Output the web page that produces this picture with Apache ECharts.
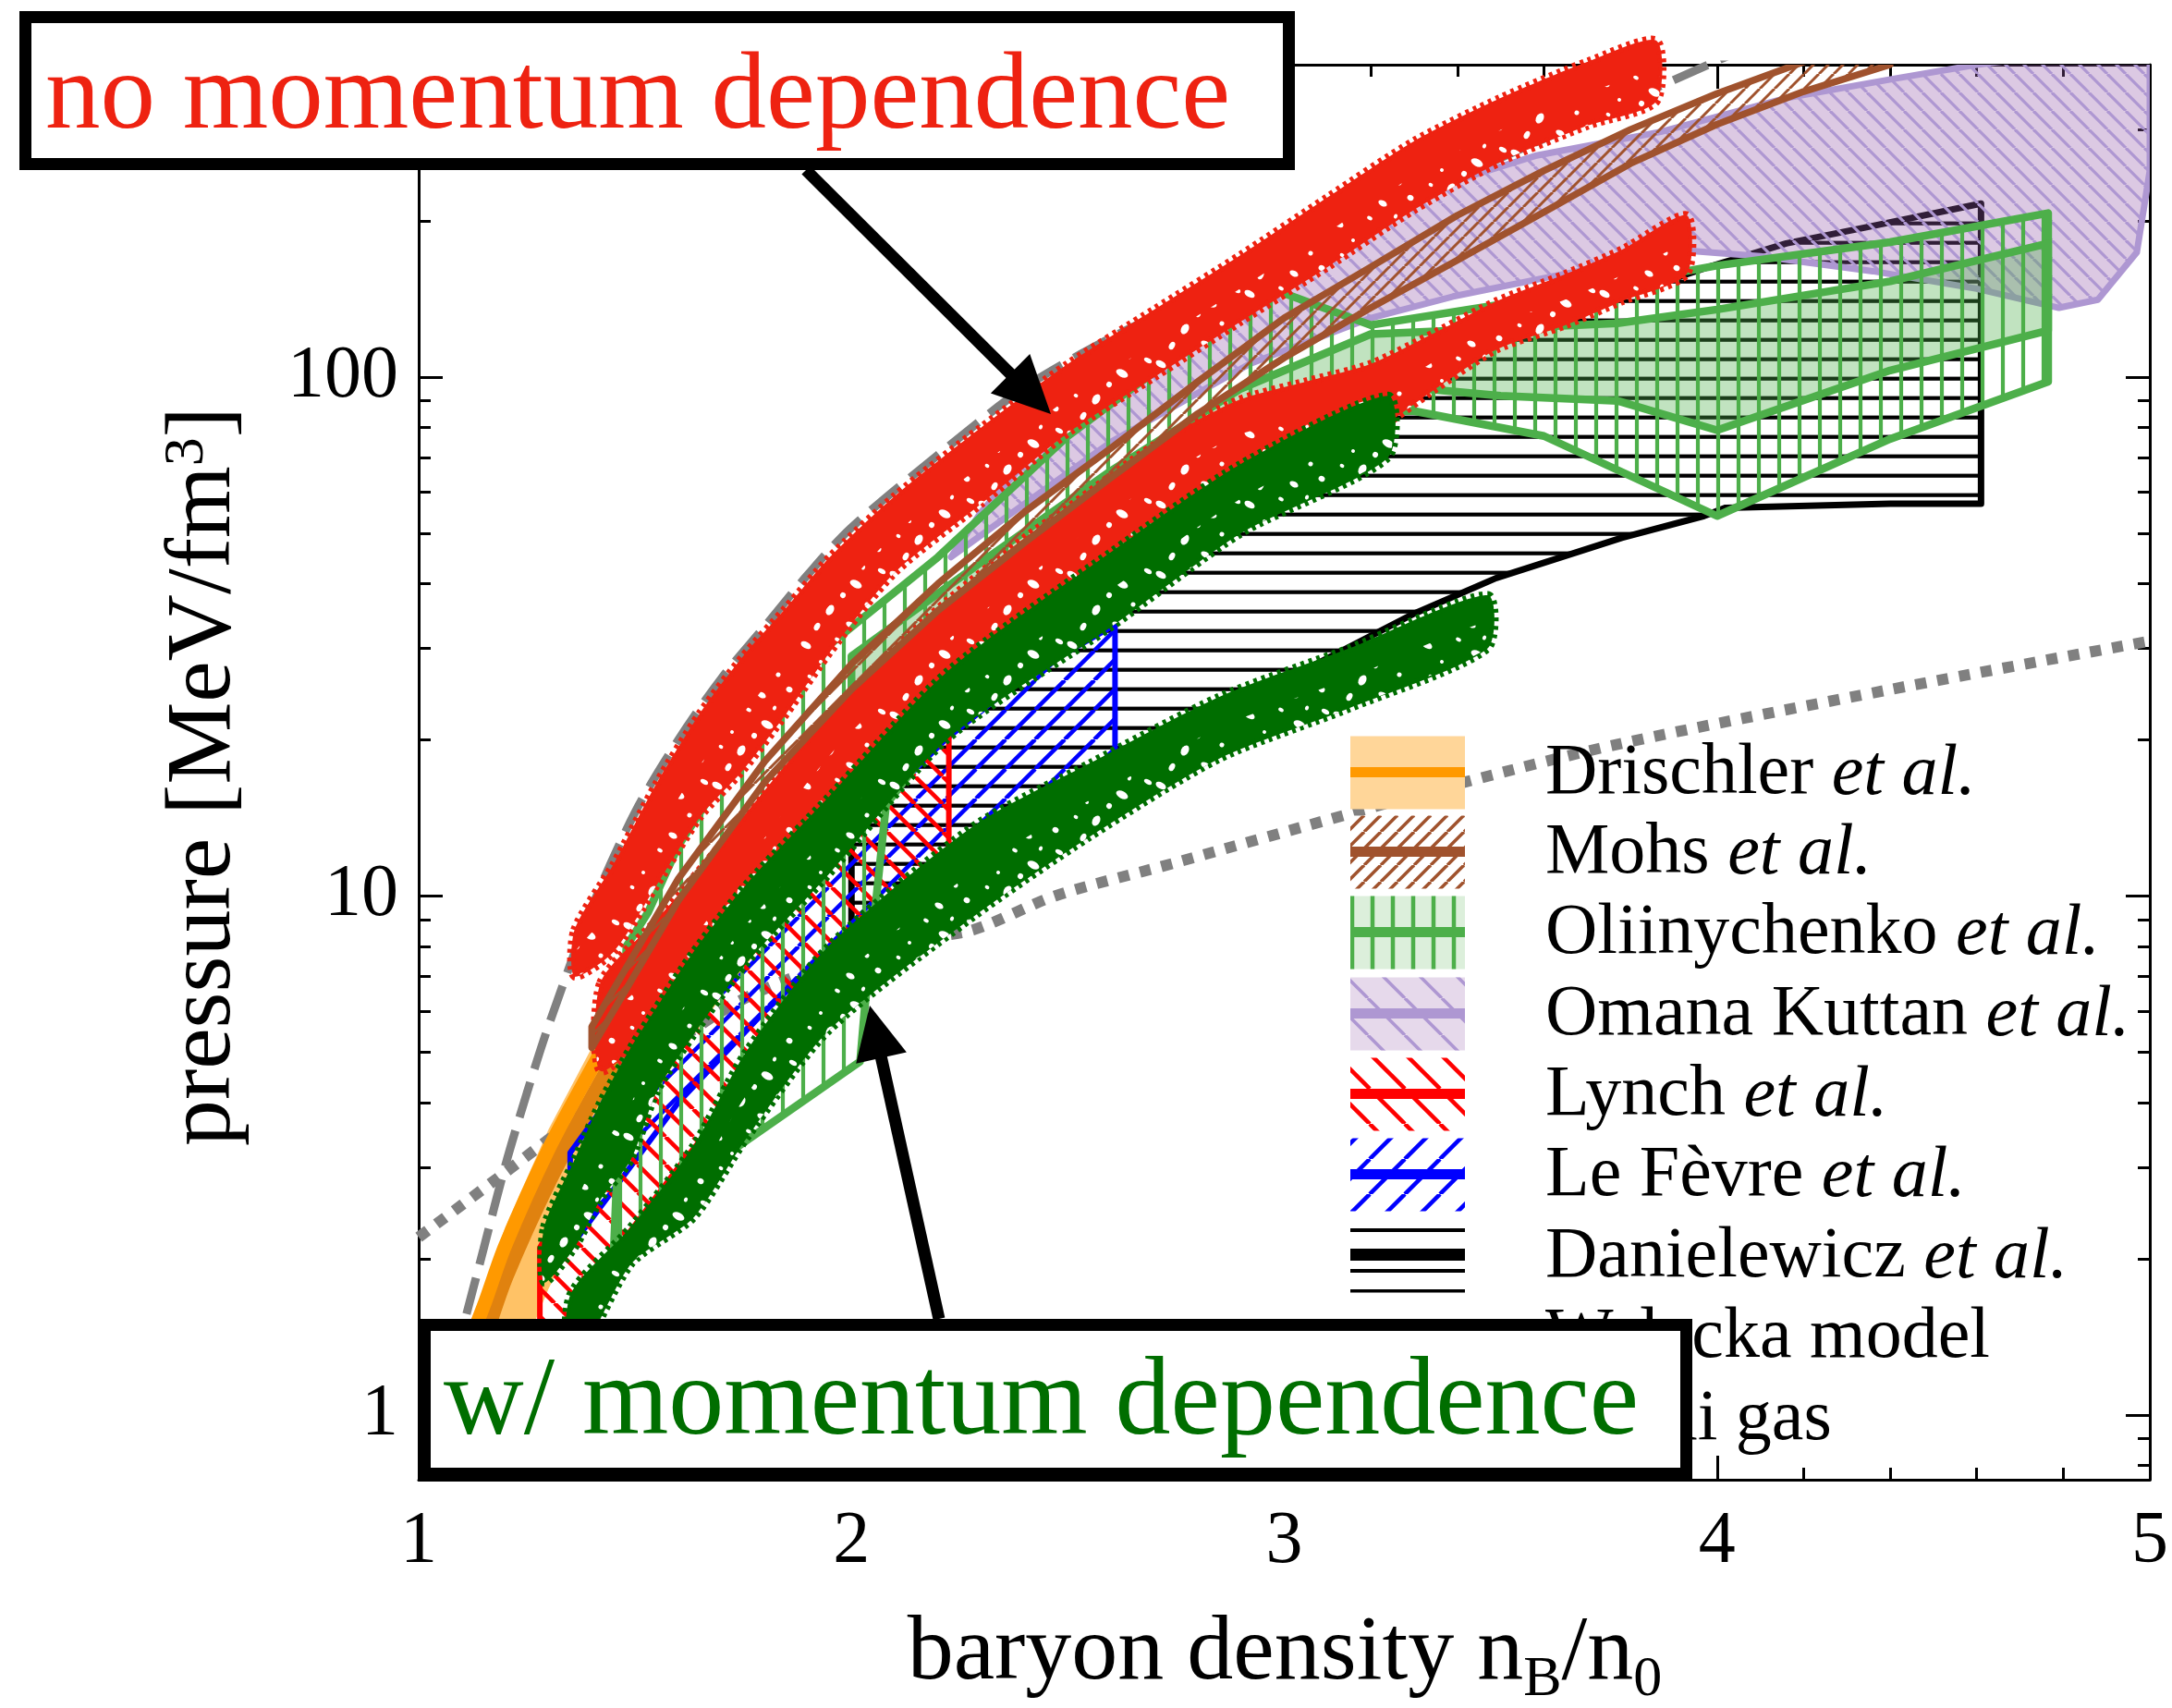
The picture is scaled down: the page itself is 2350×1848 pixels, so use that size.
<!DOCTYPE html>
<html><head><meta charset="utf-8">
<script src="https://cdn.jsdelivr.net/npm/echarts@6/dist/echarts.min.js"></script>
<style>html,body{margin:0;padding:0;background:#fff}#c{width:2350px;height:1848px}</style>
</head><body><div id="c"></div>
<script>
// ---------------- DATA ----------------
const xTicks = [1, 2, 3, 4, 5];
const yMajor = [1, 10, 100];
const yMinor = [0.8, 0.9, 2, 3, 4, 5, 6, 7, 8, 9, 20, 30, 40, 50, 60, 70, 80, 90, 200, 300];

// Walecka model (gray dashed)
const waleckaX = [1.08, 1.10, 1.15, 1.20, 1.25, 1.30, 1.40, 1.50, 1.60, 1.70, 1.80, 1.90, 2.00, 2.20, 2.40, 2.60, 2.80, 3.00, 3.20, 3.40, 3.60, 3.80, 4.00, 4.10];
const waleckaP = [1.26, 1.45, 2.09, 3.02, 4.17, 5.62, 9.5, 14.5, 20, 26.3, 33.1, 41.7, 51.3, 70.8, 95.5, 119, 143, 172, 204, 243, 288, 343, 407, 442];

// Fermi gas (gray dotted)
const fermiX = [1.0, 1.18, 1.36, 1.73, 2.10, 2.28, 2.47, 2.75, 3.15, 3.42, 3.77, 4.4, 5.0];
const fermiP = [2.2, 2.85, 3.7, 6.2, 8.1, 8.6, 10.0, 11.6, 14.4, 16.6, 19.6, 25.0, 31.0];

// Drischler et al.
const drX = [1.08, 1.15, 1.2, 1.3, 1.4, 1.5, 1.6, 1.7, 1.8, 1.9, 2.0];
const drHi = [1.25, 1.75, 2.3, 3.55, 5.1, 7.1, 9.6, 12.4, 15.6, 19, 22.5];
const drLo = [0.6, 0.85, 1.1, 1.75, 2.6, 3.6, 4.9, 6.4, 8.2, 10.2, 12.4];
const drMid = [1.15, 1.62, 2.12, 3.25, 4.65, 6.5, 8.8, 11.4, 14.4, 17.5, 20.8];
const drDark = [1.0, 1.41, 1.85, 2.83, 4.05, 5.65, 7.65, 9.9, 12.5, 15.2, 18.1];

// Mohs et al.
const mohsX = [1.4, 1.6, 1.8, 2.0, 2.2, 2.4, 2.6, 2.8, 3.0, 3.2, 3.4, 3.6, 3.8, 4.0, 4.2, 4.4];
const mohsHi = [5.6, 10.8, 18.2, 28, 40, 55, 73, 98, 130, 163, 205, 250, 300, 352, 405, 460];
const mohsLo = [5.1, 9.8, 16.6, 25, 35.5, 48, 64, 85, 109, 136, 168, 208, 258, 307, 355, 400];

// Oliinychenko et al. (outer hatched band, inner filled band)
const oaUx = [1.48, 1.53, 1.6, 1.76, 1.95, 2.2, 2.5, 2.75, 2.98, 3.2, 3.5, 4.0, 4.4, 4.765];
const oaUp = [8.0, 9.3, 12.5, 20, 30.5, 45, 77, 110, 147, 126, 138, 164, 182, 207];
const oaLx = [1.45, 1.6, 1.74, 2.02, 2.03, 2.08, 2.3, 2.6, 2.9, 3.1, 3.3, 3.6, 4.0, 4.4, 4.765];
const oaLo = [2.0, 2.6, 3.3, 4.8, 6.0, 15, 26, 45, 80, 86, 86, 77, 54, 76, 98];
const obX = [2.0, 2.3, 2.6, 2.9, 3.2, 3.5, 3.77, 4.0, 4.4, 4.765];
const obHi = [29, 44, 66, 95, 121, 124, 127, 135, 153, 181];
const obLo = [22, 32, 46, 70, 97, 92, 90, 79, 103, 123];

// Omana Kuttan et al.
const omUx = [2.23, 2.3, 2.5, 2.8, 3.0, 3.28, 3.58, 3.87, 4.16, 4.41, 4.6, 4.8, 5.0];
const omUp = [45, 55, 85, 135, 170, 223, 267, 297, 345, 376, 400, 420, 430];
const omLx = [2.23, 2.4, 2.6, 2.92, 3.2, 3.39, 3.68, 3.94, 4.1, 4.36, 4.6, 4.79, 4.88, 4.97, 5.0];
const omLo = [45, 57, 75, 106, 130, 143, 160, 175, 171, 160, 148, 136, 141, 174, 250];

// Lynch et al.
const lyX = [1.28, 1.4, 1.6, 1.8, 2.0, 2.225];
const lyHi = [2.1, 3.2, 5.4, 8.5, 13.5, 22];
const lyLo = [1.2, 1.8, 3.0, 4.8, 7.3, 11.1];

// Le Fevre et al.
const lfX = [1.35, 1.6, 1.8, 2.0, 2.2, 2.4, 2.609];
const lfHi = [3.2, 6.2, 9.6, 14.0, 19.5, 26.5, 33.3];
const lfLo = [2.1, 4.0, 6.0, 8.5, 11.3, 14.5, 18.4];

// Danielewicz et al.
const daUx = [2.0, 2.2, 2.45, 2.7, 2.98, 3.22, 3.3, 3.58, 3.97, 4.16, 4.34, 4.61];
const daUp = [19, 26, 37, 56, 80, 96, 100, 126, 162, 181, 194, 216];
const daLx = [2.0, 2.2, 2.42, 2.56, 2.94, 3.3, 3.49, 3.78, 3.97, 4.02, 4.4, 4.61];
const daLo = [7.7, 11, 15, 17.7, 24.5, 35, 41, 49, 54, 56, 57, 57];

// no momentum dependence (red bands)
const r1X = [1.36, 1.45, 1.55, 1.65, 1.75, 1.85, 1.95, 2.1, 2.3, 2.5, 2.7, 2.9, 3.1, 3.3, 3.5, 3.7, 3.86];
const r1Hi = [8.6, 11.5, 16.5, 22.5, 29, 36, 45, 59, 80, 106, 135, 172, 222, 285, 345, 405, 445];
const r1Lo = [7.0, 7.8, 10.5, 14.2, 17.5, 22.5, 29.5, 42, 57, 78, 100, 128, 163, 210, 260, 305, 340];
const r2X = [1.42, 1.55, 1.66, 1.8, 1.95, 2.1, 2.22, 2.4, 2.5, 2.7, 2.89, 3.05, 3.2, 3.35, 3.49, 3.65, 3.78, 3.93];
const r2Hi = [6.8, 9.0, 11.5, 16, 22.5, 30, 37, 49, 56, 74, 90, 98, 106, 122, 140, 158, 176, 205];
const r2Lo = [4.6, 5.6, 6.8, 10.5, 15.5, 21, 26, 34, 40, 53, 66, 72, 78, 95, 113, 126, 140, 158];

// with momentum dependence (green bands)
const g1X = [1.29, 1.36, 1.42, 1.49, 1.55, 1.635, 1.756, 1.947, 2.22, 2.6, 2.9, 3.24];
const g1Hi = [2.3, 3.1, 4.0, 5.1, 6.1, 7.8, 10.5, 15.5, 27, 46, 68, 92];
const g1Lo = [1.8, 2.1, 2.6, 3.1, 4.2, 5.4, 7.4, 11.0, 20, 33, 50, 70];
const g2X = [1.35, 1.49, 1.635, 1.756, 1.947, 2.28, 2.55, 2.85, 3.15, 3.47];
const g2Hi = [1.7, 2.3, 3.3, 5.0, 8.0, 13.6, 18, 24.2, 30, 38];
const g2Lo = [1.2, 1.95, 2.4, 3.4, 5.5, 9.1, 13, 18.4, 23, 30];

// legend
const legendNames = ['Drischler ', 'Mohs ', 'Oliinychenko ', 'Omana Kuttan ', 'Lynch ', 'Le Fèvre ', 'Danielewicz ', 'Walecka model', 'Fermi gas'];
const legendEtAl = [true, true, true, true, true, true, true, false, false];

// ---------------- STYLE ----------------
const FONT = 'Liberation Serif';
const C = {
  red: '#ee2211', dgreen: '#006e00', gray: '#808080', orange: '#ff9900', dorange: '#e0820f',
  brown: '#a0522d', lgreen: '#4daf4a', purple: '#ae97d2', blue: '#0000ff', lred: '#ff0000'
};

function mkPattern(w, h, draw) {
  const c = document.createElement('canvas'); c.width = w; c.height = h;
  const g = c.getContext('2d'); draw(g, w, h);
  return { image: c, repeat: 'repeat' };
}
function diag(color, s, lw, dir, bg) {
  return mkPattern(s, s, (g) => {
    if (bg) { g.fillStyle = bg; g.fillRect(0, 0, s, s); }
    g.strokeStyle = color; g.lineWidth = lw;
    for (let k = -1; k <= 1; k++) {
      g.beginPath();
      if (dir > 0) { g.moveTo(k * s, s); g.lineTo(k * s + s, 0); }
      else { g.moveTo(k * s, 0); g.lineTo(k * s + s, s); }
      g.stroke();
    }
  });
}
function hlines(color, s, lw, bg) {
  return mkPattern(8, s, (g, w, h) => {
    if (bg) { g.fillStyle = bg; g.fillRect(0, 0, w, h); }
    g.fillStyle = color; g.fillRect(0, (s - lw) / 2, w, lw);
  });
}
function vlines(color, s, lw, bg) {
  return mkPattern(s, 8, (g, w, h) => {
    if (bg) { g.fillStyle = bg; g.fillRect(0, 0, w, h); }
    g.fillStyle = color; g.fillRect((s - lw) / 2, 0, lw, h);
  });
}
// texture of small white holes used inside the scattered bands
const speckle = mkPattern(96, 76, (g) => {
  g.fillStyle = '#fff';
  const spots = [[8, 14, 6, 3.5], [34, 52, 4, 6], [62, 24, 7, 4], [86, 62, 3.5, 3], [48, 36, 3, 3],
                 [90, 10, 4.5, 2.5], [20, 70, 3, 4.5], [74, 46, 2.5, 2.5], [24, 32, 2, 2], [56, 68, 5, 3],
                 [12, 48, 2.5, 2], [70, 6, 2, 2.5], [42, 8, 3, 2]];
  spots.forEach(s => { g.beginPath(); g.ellipse(s[0], s[1], s[2], s[3], 0.5, 0, Math.PI * 2); g.fill(); });
});

const P = {
  dan: hlines('#000', 21.4, 4.2),
  lef: diag(C.blue, 32, 4.5, 1),
  lyn: diag(C.lred, 30, 4.5, -1),
  oma: diag(C.purple, 20, 3.2, -1),
  oli: vlines(C.lgreen, 22, 4.2),
  moh: diag(C.brown, 16, 3, 1)
};

// ---------------- SERIES HELPERS ----------------
function polyPts(api, ux, uy, lx, ly) {
  const pts = [];
  for (let i = 0; i < ux.length; i++) pts.push(api.coord([ux[i], uy[i]]));
  for (let i = lx.length - 1; i >= 0; i--) pts.push(api.coord([lx[i], ly[i]]));
  return pts;
}
function band(name, ux, uy, lx, ly, st) {
  return {
    type: 'custom', name: name, coordinateSystem: 'cartesian2d', xAxisIndex: 0, yAxisIndex: 0,
    clip: st.clip !== false, silent: true, animation: false, z: st.z || 2,
    data: [[ux[0], uy[0]]],
    renderItem: function (params, api) {
      const pts = polyPts(api, ux, uy, lx, ly);
      const sm = st.smooth || 0;
      const ch = [];
      if (st.fill) ch.push({ type: 'polygon', shape: { points: pts, smooth: sm }, style: { fill: st.fill, stroke: st.jag ? st.fill : 'none', lineWidth: st.jag || 0, lineDash: st.jag ? [4, 5] : null, lineCap: 'butt', lineJoin: 'round' } });
      if (st.hatch) ch.push({ type: 'polygon', shape: { points: pts }, style: { fill: st.hatch } });
      if (st.speck) {
        const sp = [];
        for (let i = 0; i < ux.length; i++) {
          const a = api.coord([ux[i], uy[i]]), b = api.coord([lx[i], ly[i]]);
          sp.push([b[0] + 0.5 * (a[0] - b[0]), b[1] + 0.5 * (a[1] - b[1])]);
        }
        for (let i = lx.length - 1; i >= 0; i--) sp.push(api.coord([lx[i], ly[i]]));
        ch.push({ type: 'polygon', shape: { points: sp, smooth: sm }, style: { fill: speckle } });
      }
      if (st.stroke) ch.push({ type: 'polygon', shape: { points: pts }, style: { fill: 'none', stroke: st.stroke, lineWidth: st.lw, lineJoin: 'round' } });
      return { type: 'group', children: ch };
    }
  };
}
function zip(xs, ys) { return xs.map((x, i) => [x, ys[i]]); }
function line(name, xs, ys, ls, z) {
  return { type: 'line', name: name, data: zip(xs, ys), showSymbol: false, symbol: 'none', smooth: 0.3, z: z || 1,
           silent: true, animation: false, lineStyle: ls, xAxisIndex: 0, yAxisIndex: 0 };
}

// ---------------- AXES ----------------
const axisCol = '#000';
function xAx(pos, labels) {
  return {
    type: 'value', position: pos, min: 1, max: 5, interval: 1,
    axisLine: { show: true, onZero: false, lineStyle: { color: axisCol, width: 3 } },
    axisTick: { show: true, inside: true, length: 26, lineStyle: { color: axisCol, width: 3 } },
    minorTick: { show: true, splitNumber: 5, length: 13, lineStyle: { color: axisCol, width: 3 } },
    axisLabel: { show: labels, fontSize: 80, fontFamily: FONT, color: '#000', margin: 28 },
    splitLine: { show: false }, minorSplitLine: { show: false }
  };
}
function yAx(pos, vals, major, labels, lineShow) {
  return {
    type: 'log', logBase: 10, position: pos, min: 0.75, max: 400,
    axisLine: { show: lineShow, onZero: false, lineStyle: { color: axisCol, width: 3 } },
    axisTick: { show: true, inside: true, length: major ? 26 : 13, customValues: vals, lineStyle: { color: axisCol, width: 3 } },
    axisLabel: { show: labels, customValues: vals, fontSize: 80, fontFamily: FONT, color: '#000', margin: 22 },
    splitLine: { show: false }, minorTick: { show: false }
  };
}

// ---------------- GRAPHICS (annotations, legend) ----------------
const rows = [836, 922, 1009, 1097, 1184, 1271, 1359, 1446, 1535];
const SW = { x: 1461, w: 124, h: 79 };
const legSw = [
  { bg: '#ffd699', hatch: null, line: C.orange },
  { bg: '#fff', hatch: diag(C.brown, 18, 3.5, 1), line: C.brown },
  { bg: '#dcefdb', hatch: vlines(C.lgreen, 22, 4.5), line: C.lgreen },
  { bg: '#e6d9eb', hatch: diag(C.purple, 40, 3.5, -1), line: C.purple },
  { bg: '#fff', hatch: diag(C.lred, 38, 4.5, -1), line: C.lred },
  { bg: '#fff', hatch: diag(C.blue, 38, 4.5, 1), line: C.blue },
  { bg: '#fff', hatch: hlines('#000', 22, 4), line: '#000' },
  { dash: [40, 15], lw: 9 },
  { dash: [12, 12], lw: 12 }
];
const graphics = [];
legSw.forEach((s, i) => {
  const cy = rows[i];
  if (s.bg) {
    graphics.push({ type: 'rect', z: 50, shape: { x: SW.x, y: cy - SW.h / 2, width: SW.w, height: SW.h }, style: { fill: s.bg } });
    if (s.hatch) graphics.push({ type: 'rect', z: 51, shape: { x: SW.x, y: cy - SW.h / 2, width: SW.w, height: SW.h }, style: { fill: s.hatch } });
    graphics.push({ type: 'rect', z: 52, shape: { x: SW.x, y: cy - 6, width: SW.w, height: 11 }, style: { fill: s.line } });
  } else {
    graphics.push({ type: 'line', z: 52, shape: { x1: SW.x, y1: cy, x2: SW.x + SW.w, y2: cy }, style: { stroke: C.gray, lineWidth: s.lw, lineDash: s.dash } });
  }
  const txt = legendEtAl[i] ? '{n|' + legendNames[i] + '}{i|et al.}' : '{n|' + legendNames[i] + '}';
  graphics.push({ type: 'text', z: 52, x: 1672, y: cy + 2, style: {
    text: txt, verticalAlign: 'middle', align: 'left',
    rich: { n: { fontSize: 78, fontFamily: FONT, fill: '#000' }, i: { fontSize: 78, fontFamily: FONT, fontStyle: 'italic', fill: '#000' } } } });
});
// boxes
graphics.push({ type: 'rect', z: 60, shape: { x: 27.5, y: 18.5, width: 1367, height: 159 }, style: { fill: '#fff', stroke: '#000', lineWidth: 13 } });
graphics.push({ type: 'text', z: 61, x: 49, y: 107, style: { text: 'no momentum dependence', fontSize: 119, fontFamily: FONT, fill: C.red, verticalAlign: 'middle' } });
graphics.push({ type: 'rect', z: 60, shape: { x: 459.5, y: 1433.5, width: 1365, height: 161 }, style: { fill: '#fff', stroke: '#000', lineWidth: 13 } });
graphics.push({ type: 'text', z: 61, x: 480, y: 1519, style: { text: 'w/ momentum dependence', fontSize: 120, fontFamily: FONT, fill: C.dgreen, verticalAlign: 'middle' } });
// arrows
function arrow(sx, sy, tx, ty, hl, hw) {
  const L = Math.hypot(tx - sx, ty - sy), dx = (tx - sx) / L, dy = (ty - sy) / L;
  const bx = tx - hl * dx, by = ty - hl * dy, nx = -dy, ny = dx;
  graphics.push({ type: 'line', z: 60, shape: { x1: sx, y1: sy, x2: bx + dx * 4, y2: by + dy * 4 }, style: { stroke: '#000', lineWidth: 13 } });
  graphics.push({ type: 'polygon', z: 60, shape: { points: [[tx, ty], [bx + hw * nx, by + hw * ny], [bx - hw * nx, by - hw * ny]] }, style: { fill: '#000' } });
}
arrow(872, 184, 1137, 448, 62, 30);
arrow(1016, 1427, 941, 1088, 58, 28);
// axis titles
graphics.push({ type: 'text', z: 40, x: 1390, y: 1790, style: {
  text: '{t|baryon density n}{s|B}{t|/n}{s|0}', align: 'center', verticalAlign: 'middle',
  rich: { t: { fontSize: 100, fontFamily: FONT, fill: '#000' }, s: { fontSize: 62, fontFamily: FONT, fill: '#000', padding: [56, 0, 0, 0] } } } });
graphics.push({ type: 'text', z: 40, x: 222, y: 840, rotation: Math.PI / 2, style: {
  text: '{t|pressure [MeV/fm}{u|3}{t|]}', align: 'center', verticalAlign: 'middle',
  rich: { t: { fontSize: 100, fontFamily: FONT, fill: '#000' }, u: { fontSize: 62, fontFamily: FONT, fill: '#000', verticalAlign: 'top' } } } });

// ---------------- CHART ----------------
const chart = echarts.init(document.getElementById('c'), null, { renderer: 'canvas', width: 2350, height: 1848 });
chart.setOption({
  backgroundColor: '#fff',
  animation: false,
  grid: { left: 453, right: 24, top: 70, bottom: 247, containLabel: false, outerBoundsMode: 'none' },
  xAxis: [xAx('bottom', true), xAx('top', false)],
  yAxis: [yAx('left', yMajor, true, true, true), yAx('left', yMinor, false, false, false),
          yAx('right', yMajor, true, false, true), yAx('right', yMinor, false, false, false)],
  graphic: { elements: graphics },
  series: [
    line('Fermi gas', fermiX, fermiP, { color: C.gray, width: 12, type: [12, 12], cap: 'butt' }, 1),
    line('Walecka model', waleckaX, waleckaP, { color: C.gray, width: 9, type: [40, 15], cap: 'butt' }, 1),
    band('Drischler', drX, drHi, drX, drLo, { fill: 'rgba(255,153,0,0.6)', z: 1 }),
    line('Drischler dark', drX, drDark, { color: C.dorange, width: 18 }, 1),
    line('Drischler center', drX, drMid, { color: C.orange, width: 15 }, 1),
    band('Danielewicz', daUx, daUp, daLx, daLo, { hatch: P.dan, stroke: '#000', lw: 7 }),
    band('Omana Kuttan', omUx, omUp, omLx, omLo, { fill: 'rgba(150,90,170,0.33)', hatch: P.oma, stroke: C.purple, lw: 7 }),
    band('Le Fevre', lfX, lfHi, lfX, lfLo, { hatch: P.lef, stroke: C.blue, lw: 6 }),
    band('Lynch', lyX, lyHi, lyX, lyLo, { hatch: P.lyn, stroke: C.lred, lw: 6 }),
    band('Oliinychenko A', oaUx, oaUp, oaLx, oaLo, { hatch: P.oli, stroke: C.lgreen, lw: 8.5 }),
    band('Oliinychenko B', obX, obHi, obX, obLo, { fill: 'rgba(77,175,74,0.35)', stroke: C.lgreen, lw: 8.5 }),
    band('no-mom 1', r1X, r1Hi, r1X, r1Lo, { fill: C.red, jag: 9, speck: true, clip: false, z: 3, smooth: 0.25 }),
    band('no-mom 2', r2X, r2Hi, r2X, r2Lo, { fill: C.red, jag: 9, speck: true, clip: false, z: 3, smooth: 0.25 }),
    band('mom 1', g1X, g1Hi, g1X, g1Lo, { fill: C.dgreen, jag: 9, speck: true, clip: false, z: 3, smooth: 0.25 }),
    band('mom 2', g2X, g2Hi, g2X, g2Lo, { fill: C.dgreen, jag: 9, speck: true, clip: false, z: 3, smooth: 0.25 }),
    band('Mohs', mohsX, mohsHi, mohsX, mohsLo, { hatch: P.moh, stroke: C.brown, lw: 7.5, z: 4 })
  ]
});
</script>
</body></html>
